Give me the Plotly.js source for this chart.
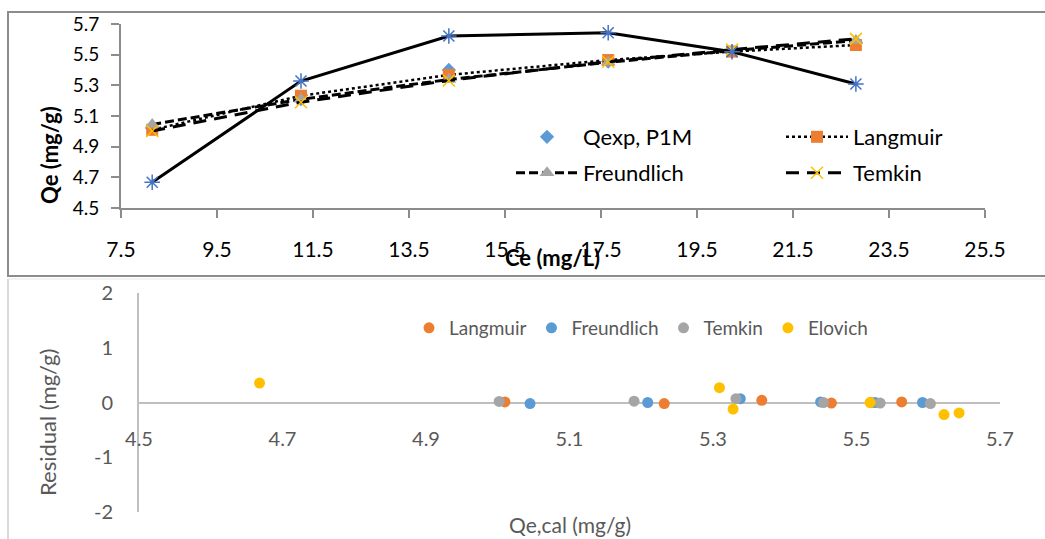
<!DOCTYPE html>
<html>
<head>
<meta charset="utf-8">
<script src="https://cdn.plot.ly/plotly-3.0.1.min.js"></script>
<style>html,body{margin:0;padding:0;background:#fff;}#chart{width:1045px;height:539px;}</style>
</head>
<body>
<div id="chart"></div>
<script>
// ---- Data ----
const ce = [8.15, 11.25, 14.33, 17.65, 20.23, 22.81];          // Ce (mg/L)
const qexp = [5.02, 5.21, 5.40, 5.455, 5.52, 5.58];           // Qexp, P1M
const langmuir = [5.01, 5.232, 5.368, 5.465, 5.52, 5.563];
const freundlich = [5.045, 5.209, 5.338, 5.45, 5.526, 5.592];
const temkin = [5.002, 5.19, 5.332, 5.454, 5.533, 5.603];
const elovich = [4.668, 5.328, 5.622, 5.643, 5.519, 5.309];

// residuals (mg/g) vs Qe,cal
const langmuirRes = [0.01, -0.02, 0.04, -0.01, 0.0, 0.01];
const freundlichRes = [-0.02, 0.0, 0.07, 0.01, 0.0, 0.0];
const temkinRes = [0.02, 0.025, 0.07, 0.0, -0.01, -0.02];
const elovichRes = [0.354, -0.12, -0.22, -0.19, 0.0, 0.27];

// residual axis tick labels
const resTickVals = [-2, -1, 0, 1, 2];
const resTickText = ['-2', '-1', '0', '1', '2'];

const FONT = 'Lato, "Open Sans", sans-serif';
const W = 1045, H = 539;
const px = v => v / W;
const py = v => 1 - v / H;

const cBlue = '#5B9BD5', cOrange = '#ED7D31', cGray = '#A5A5A5', cYellow = '#FFC000', cDBlue = '#4472C4';

const traces = [
  {x: ce, y: qexp, name: 'Qexp, P1M', mode: 'markers', type: 'scatter',
   marker: {symbol: 'diamond', size: 11, color: cBlue}, legend: 'legend', xaxis: 'x', yaxis: 'y'},
  {x: ce, y: langmuir, name: 'Langmuir', mode: 'lines+markers', type: 'scatter',
   line: {color: '#000', width: 2.5, dash: '3px,3px'},
   marker: {symbol: 'square', size: 12, color: cOrange}, legend: 'legend', xaxis: 'x', yaxis: 'y'},
  {x: ce, y: freundlich, name: 'Freundlich', mode: 'lines+markers', type: 'scatter',
   line: {color: '#000', width: 3, dash: '9px,4px'},
   marker: {symbol: 'triangle-up', size: 13, color: cGray}, legend: 'legend2', xaxis: 'x', yaxis: 'y'},
  {x: ce, y: temkin, name: 'Temkin', mode: 'lines+markers', type: 'scatter',
   line: {color: '#000', width: 3, dash: '13px,8px'},
   marker: {symbol: 'x-thin', size: 12, color: cYellow, line: {color: cYellow, width: 1.5}},
   legend: 'legend2', xaxis: 'x', yaxis: 'y'},
  {x: ce, y: elovich, name: 'Elovich', mode: 'lines+markers', type: 'scatter', showlegend: false,
   line: {color: '#000', width: 3},
   marker: {symbol: 'asterisk-open', size: 13, color: cDBlue, line: {color: cDBlue, width: 1.5}},
   xaxis: 'x', yaxis: 'y'},
  // residual panel
  {x: langmuir, y: langmuirRes, name: 'Langmuir', mode: 'markers', type: 'scatter',
   marker: {size: 11, color: cOrange}, legend: 'legend3', xaxis: 'x2', yaxis: 'y2'},
  {x: freundlich, y: freundlichRes, name: 'Freundlich', mode: 'markers', type: 'scatter',
   marker: {size: 11, color: cBlue}, legend: 'legend3', xaxis: 'x2', yaxis: 'y2'},
  {x: temkin, y: temkinRes, name: 'Temkin', mode: 'markers', type: 'scatter',
   marker: {size: 11, color: cGray}, legend: 'legend3', xaxis: 'x2', yaxis: 'y2'},
  {x: elovich, y: elovichRes, name: 'Elovich', mode: 'markers', type: 'scatter',
   marker: {size: 11, color: cYellow}, legend: 'legend3', xaxis: 'x2', yaxis: 'y2'}
];

const topAxisColor = '#8C8C8C';
const layout = {
  width: W, height: H,
  margin: {l: 0, r: 0, t: 0, b: 0, autoexpand: false},
  paper_bgcolor: '#fff', plot_bgcolor: 'rgba(0,0,0,0)',
  font: {family: FONT, color: '#000'},
  xaxis: {domain: [px(121), px(985)], anchor: 'y', range: [7.5, 25.5], tick0: 7.5, dtick: 2,
          showgrid: false, zeroline: false, showline: true, linecolor: topAxisColor, linewidth: 2,
          ticks: 'outside', ticklen: 8, tickwidth: 2, tickcolor: topAxisColor,
          tickfont: {family: FONT, size: 21, color: '#000'}, ticklabelstandoff: 14, tickformat: '.1f'},
  yaxis: {domain: [py(208), py(24)], anchor: 'x', range: [4.5, 5.7], tick0: 4.5, dtick: 0.2,
          showgrid: false, zeroline: false, showline: true, linecolor: topAxisColor, linewidth: 2,
          ticks: 'outside', ticklen: 8, tickwidth: 2, tickcolor: topAxisColor,
          tickfont: {family: FONT, size: 19, color: '#000'}, ticklabelstandoff: 8, tickformat: '.1f'},
  xaxis2: {domain: [px(139), px(1000)], anchor: 'free', position: py(403), range: [4.5, 5.7], tick0: 4.5, dtick: 0.2,
           showgrid: false, zeroline: false, showline: false, ticks: '',
           tickfont: {family: FONT, size: 20, color: '#595959'}, ticklabelstandoff: 22, tickformat: '.1f'},
  yaxis2: {domain: [py(512), py(293)], anchor: 'x2', range: [-2, 2],
           tickmode: 'array', tickvals: resTickVals, ticktext: resTickText,
           showgrid: false, zeroline: true, zerolinecolor: '#BFBFBF', zerolinewidth: 2,
           showline: true, linecolor: '#BFBFBF', linewidth: 2, ticks: '',
           tickfont: {family: FONT, size: 20, color: '#595959'}, ticklabelstandoff: 20},
  legend: {orientation: 'h', x: px(511), xanchor: 'left', y: py(137), yanchor: 'middle',
           itemwidth: 62, entrywidth: 193, bgcolor: 'rgba(0,0,0,0)',
           font: {family: FONT, size: 22, color: '#000'}},
  legend2: {orientation: 'h', x: px(511), xanchor: 'left', y: py(173), yanchor: 'middle',
            itemwidth: 62, entrywidth: 193, bgcolor: 'rgba(0,0,0,0)',
            font: {family: FONT, size: 22, color: '#000'}},
  legend3: {orientation: 'h', x: px(409), xanchor: 'left', y: py(328), yanchor: 'middle',
            bgcolor: 'rgba(0,0,0,0)', font: {family: FONT, size: 19, color: '#595959'}},
  annotations: [
    {text: '<b>Qe (mg/g)</b>', xref: 'paper', yref: 'paper', x: px(49), y: py(155), textangle: -90,
     showarrow: false, xanchor: 'center', yanchor: 'middle', font: {family: FONT, size: 22, color: '#000'}},
    {text: '<b>Ce (mg/L)</b>', xref: 'paper', yref: 'paper', x: px(552), y: py(257),
     showarrow: false, xanchor: 'center', yanchor: 'middle', font: {family: FONT, size: 22, color: '#000'}},
    {text: 'Residual (mg/g)', xref: 'paper', yref: 'paper', x: px(47), y: py(423), textangle: -90,
     showarrow: false, xanchor: 'center', yanchor: 'middle', font: {family: FONT, size: 22, color: '#595959'}},
    {text: 'Qe,cal (mg/g)', xref: 'paper', yref: 'paper', x: px(570), y: py(524),
     showarrow: false, xanchor: 'center', yanchor: 'middle', font: {family: FONT, size: 21, color: '#595959'}}
  ],
  shapes: [
    {type: 'rect', xref: 'paper', yref: 'paper', x0: px(8), x1: 1.02, y0: py(276), y1: py(12),
     line: {color: '#8C8C8C', width: 2}, layer: 'below'},
    {type: 'line', xref: 'paper', yref: 'paper', x0: px(8), x1: px(8), y0: py(279), y1: -0.02,
     line: {color: '#D9D9D9', width: 2}, layer: 'below'},
    {type: 'line', xref: 'paper', yref: 'paper', x0: px(8), x1: 1.02, y0: py(279), y1: py(279),
     line: {color: '#E6E6E6', width: 1}, layer: 'below'}
  ]
};

Plotly.newPlot('chart', traces, layout, {displayModeBar: false, staticPlot: true});
</script>
</body>
</html>
